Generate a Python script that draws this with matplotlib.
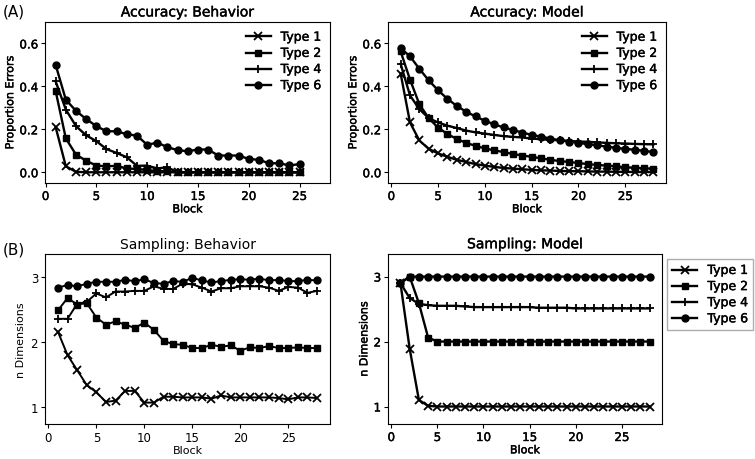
import numpy as np
import matplotlib
matplotlib.use("Agg")
import matplotlib.pyplot as plt
import matplotlib.patheffects as pe


# ==========================
# data
# ==========================
labels = ["Type 1", "Type 2", "Type 4", "Type 6"]
markers = ["x", "s", "+", "o"]

# accuracy, behaviour (blocks 1-25)
acc_beh_t1 = [0.21, 0.028, 0.002] + [0.0] * 22
acc_beh_t2 = [0.378, 0.158, 0.082, 0.054, 0.031, 0.028, 0.03, 0.018, 0.015, 0.01,
              0.006, 0.004] + [0.0] * 13
acc_beh_t4 = [0.423, 0.292, 0.215, 0.172, 0.145, 0.108, 0.09, 0.07, 0.03, 0.031,
              0.018, 0.023] + [0.0] * 13
acc_beh_t6 = [0.50, 0.338, 0.286, 0.248, 0.215, 0.191, 0.191, 0.177, 0.171, 0.128,
              0.138, 0.117, 0.103, 0.098, 0.106, 0.106, 0.078, 0.078, 0.078, 0.062,
              0.058, 0.042, 0.042, 0.032, 0.038]

# accuracy, model (blocks 1-28)
acc_mod_t1 = [0.46, 0.232, 0.148, 0.109, 0.088, 0.072, 0.058, 0.048, 0.038, 0.031,
              0.025, 0.02, 0.017, 0.014, 0.011, 0.009, 0.008, 0.006, 0.005, 0.005,
              0.004, 0.003, 0.003, 0.002, 0.002, 0.001, 0.001, 0.001]
acc_mod_t2 = [0.563, 0.432, 0.317, 0.252, 0.208, 0.178, 0.155, 0.137, 0.123, 0.111,
              0.102, 0.094, 0.085, 0.078, 0.072, 0.065, 0.058, 0.052, 0.048, 0.043,
              0.038, 0.034, 0.031, 0.028, 0.023, 0.022, 0.018, 0.017]
acc_mod_t4 = [0.505, 0.358, 0.294, 0.252, 0.232, 0.217, 0.206, 0.194, 0.186, 0.18,
              0.174, 0.168, 0.165, 0.162, 0.157, 0.154, 0.151, 0.149, 0.146, 0.143,
              0.142, 0.139, 0.137, 0.135, 0.134, 0.132, 0.131, 0.13]
acc_mod_t6 = [0.578, 0.54, 0.482, 0.428, 0.382, 0.342, 0.309, 0.282, 0.26, 0.24,
              0.223, 0.209, 0.197, 0.185, 0.174, 0.166, 0.157, 0.149, 0.143, 0.137,
              0.131, 0.125, 0.12, 0.114, 0.109, 0.105, 0.1, 0.094]

# sampling, behaviour (blocks 1-28)
smp_beh_t1 = [2.15, 1.79, 1.56, 1.33, 1.22, 1.07, 1.09, 1.24, 1.24, 1.06,
              1.06, 1.15, 1.15, 1.14, 1.14, 1.14, 1.12, 1.17, 1.14, 1.14,
              1.14, 1.14, 1.14, 1.13, 1.11, 1.14, 1.14, 1.13]
smp_beh_t2 = [2.48, 2.67, 2.57, 2.59, 2.37, 2.26, 2.31, 2.26, 2.21, 2.29,
              2.18, 2.01, 1.96, 1.95, 1.90, 1.90, 1.95, 1.92, 1.94, 1.86,
              1.91, 1.90, 1.93, 1.90, 1.90, 1.91, 1.90, 1.90]
smp_beh_t4 = [2.35, 2.35, 2.58, 2.61, 2.74, 2.68, 2.77, 2.77, 2.78, 2.78,
              2.85, 2.81, 2.81, 2.89, 2.88, 2.83, 2.77, 2.82, 2.82, 2.85,
              2.85, 2.85, 2.83, 2.78, 2.84, 2.83, 2.75, 2.78]
smp_beh_t6 = [2.83, 2.87, 2.85, 2.89, 2.92, 2.92, 2.92, 2.95, 2.93, 2.96,
              2.90, 2.89, 2.93, 2.92, 2.98, 2.94, 2.91, 2.93, 2.95, 2.96,
              2.95, 2.97, 2.94, 2.95, 2.93, 2.93, 2.95, 2.94]

# sampling, model (blocks 1-28)
smp_mod_t1 = [2.90, 1.89, 1.10, 1.01] + [1.0] * 24
smp_mod_t2 = [2.90, 3.0, 2.59, 2.06] + [2.0] * 24
smp_mod_t4 = [2.90, 2.67, 2.58, 2.56, 2.55, 2.55, 2.55, 2.54, 2.53, 2.53,
              2.53, 2.53, 2.53, 2.53, 2.53, 2.52, 2.52, 2.52, 2.52, 2.51,
              2.51, 2.51, 2.51, 2.51, 2.51, 2.51, 2.51, 2.51]
smp_mod_t6 = [2.90] + [3.0] * 27


def draw(ax, series, title, ylabel, heavy):
    # the heavier-looking panels: same font, slightly thickened strokes
    fx = [pe.withStroke(linewidth=0.3, foreground="black")] if heavy else []
    for vals, lab, mk in zip(series, labels, markers):
        blocks = np.arange(1, len(vals) + 1)
        ms = 5 if mk in ("s", "o") else 5.5
        mew = 1.3 if mk in ("x", "+") else 1
        ax.plot(blocks, vals, color="black", marker=mk, ms=ms, mew=mew,
                lw=1.7 if heavy else 1.4, label=lab)
    ax.set_title(title, fontsize=10, pad=4, path_effects=fx)
    ax.set_xlabel("Block", fontsize=8, labelpad=1, path_effects=fx)
    ax.set_ylabel(ylabel, fontsize=8, labelpad=3, path_effects=fx)
    ax.set_xticks([0, 5, 10, 15, 20, 25])
    ax.tick_params(labelsize=8.5, length=3, pad=2)
    for t in ax.get_xticklabels() + ax.get_yticklabels():
        t.set_path_effects(fx)
    return fx


fig = plt.figure(figsize=(7.55, 4.6), dpi=100)

ax1 = fig.add_axes([0.0596, 0.600, 0.3775, 0.350])
ax2 = fig.add_axes([0.5139, 0.600, 0.3682, 0.350])
ax3 = fig.add_axes([0.0596, 0.076, 0.3775, 0.370])
ax4 = fig.add_axes([0.5139, 0.076, 0.3629, 0.370])

fx1 = draw(ax1, [acc_beh_t1, acc_beh_t2, acc_beh_t4, acc_beh_t6],
           "Accuracy: Behavior", "Proportion Errors", True)
fx2 = draw(ax2, [acc_mod_t1, acc_mod_t2, acc_mod_t4, acc_mod_t6],
           "Accuracy: Model", "Proportion Errors", True)
draw(ax3, [smp_beh_t1, smp_beh_t2, smp_beh_t4, smp_beh_t6],
     "Sampling: Behavior", "n Dimensions", False)
fx4 = draw(ax4, [smp_mod_t1, smp_mod_t2, smp_mod_t4, smp_mod_t6],
           "Sampling: Model", "n Dimensions", True)

for ax in (ax1, ax2):
    ax.set_ylim(-0.05, 0.7)
    ax.set_yticks([0.0, 0.2, 0.4, 0.6])
for ax in (ax3, ax4):
    ax.set_ylim(0.73, 3.35)
    ax.set_yticks([1, 2, 3])

ax1.set_xlim(-0.05, 28)

leg1 = ax1.legend(loc="upper right", frameon=False, fontsize=9,
                  handlelength=2, labelspacing=0.25, borderaxespad=0.3)
leg2 = ax2.legend(loc="upper right", frameon=False, fontsize=9,
                  handlelength=2, labelspacing=0.25, borderaxespad=0.3)
leg4 = ax4.legend(loc="upper left", bbox_to_anchor=(1.02, 0.97), fontsize=9,
                  handlelength=2, labelspacing=0.25, fancybox=False,
                  edgecolor="#999999", borderaxespad=0)
for leg, fx in ((leg1, fx1), (leg2, fx2), (leg4, fx4)):
    for t in leg.get_texts():
        t.set_path_effects(fx)

fig.text(0.004, 0.974, "(A)", fontsize=11, va="center")
fig.text(0.004, 0.457, "(B)", fontsize=11, va="center")

plt.savefig("out.png", dpi=100)
plt.close()
